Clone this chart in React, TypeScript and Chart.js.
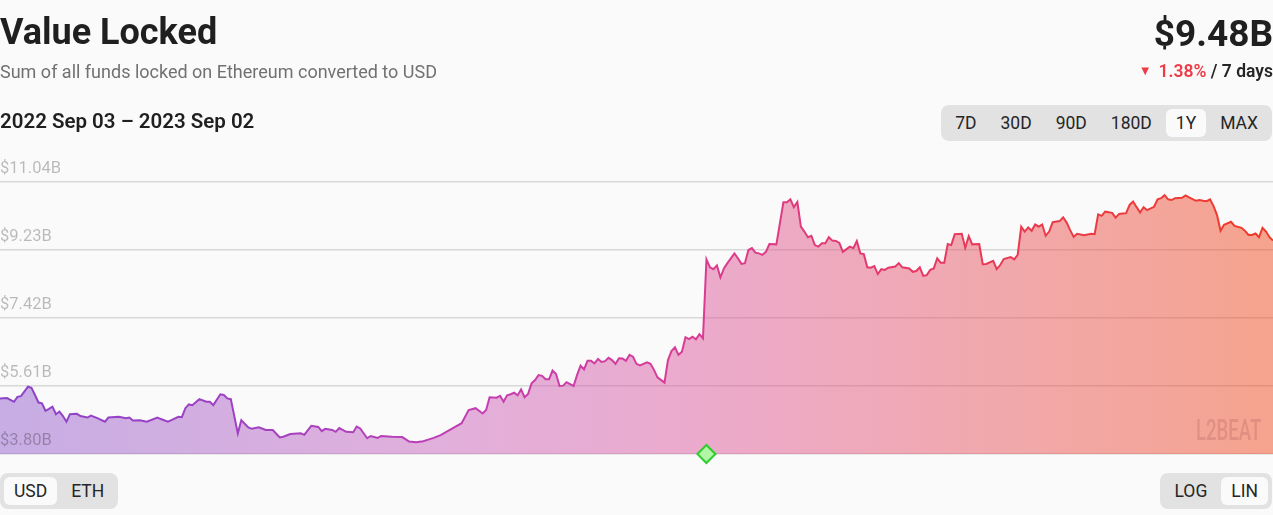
import React, { useEffect, useRef } from "react";
import { Chart, registerables } from "chart.js";

Chart.register(...registerables);

// Day index since 2022 Sep 03
const days = [
  0, 2, 4, 5, 6, 8, 9, 10, 11, 12, 13, 14, 15, 16, 17, 18, 19, 20, 22, 23, 25, 26, 28, 30, 31, 34, 36, 37, 38, 40,
  42, 45, 46, 48, 49, 51, 52, 53, 54, 55, 57, 59, 60, 61, 63, 64, 65, 66, 68, 69, 71, 72, 74, 76, 78, 80, 81, 83, 86, 87,
  89, 91, 92, 93, 95, 96, 97, 99, 101, 102, 103, 105, 106, 108, 109, 112, 115, 117, 119, 121, 122, 124, 126, 129, 132, 134, 136, 138, 139, 140,
  142, 143, 144, 145, 146, 147, 148, 149, 150, 151, 152, 153, 154, 155, 156, 157, 158, 159, 160, 161, 162, 163, 164, 165, 166, 167, 168, 169, 170, 171,
  172, 173, 174, 175, 176, 177, 178, 179, 180, 181, 182, 183, 185, 186, 187, 188, 190, 191, 192, 193, 194, 195, 196, 197, 198, 199, 200, 201, 202, 203,
  204, 205, 206, 207, 208, 210, 211, 212, 213, 214, 215, 216, 217, 218, 219, 220, 222, 224, 225, 226, 227, 228, 229, 230, 231, 232, 233, 234, 235, 236,
  237, 238, 239, 240, 241, 243, 244, 245, 246, 247, 248, 249, 250, 251, 252, 253, 254, 256, 257, 258, 260, 261, 262, 263, 264, 265, 266, 267, 268, 269,
  270, 271, 272, 273, 275, 276, 277, 278, 280, 281, 282, 284, 285, 286, 287, 289, 290, 291, 292, 293, 294, 295, 296, 297, 298, 299, 300, 301, 303, 304,
  305, 306, 307, 308, 310, 312, 313, 314, 315, 316, 318, 319, 320, 321, 322, 323, 324, 325, 326, 327, 328, 330, 331, 332, 333, 334, 335, 336, 338, 339,
  340, 342, 343, 344, 345, 346, 347, 348, 349, 350, 352, 353, 355, 356, 357, 358, 359, 360, 361, 362, 363, 364,
];

// Value locked, billions of USD
const values = [
  5.28, 5.29, 5.19, 5.32, 5.34, 5.59, 5.56, 5.37, 5.17, 5.15, 4.95, 5.0, 5.06, 4.86, 4.93, 4.81, 4.66, 4.86, 4.87, 4.81, 4.77, 4.82, 4.75, 4.66, 4.77, 4.79, 4.75, 4.77, 4.69, 4.7,
  4.66, 4.77, 4.73, 4.66, 4.7, 4.79, 4.78, 5.02, 5.12, 5.1, 5.26, 5.19, 5.19, 5.1, 5.39, 5.37, 5.28, 5.26, 4.35, 4.7, 4.51, 4.47, 4.51, 4.44, 4.44, 4.24, 4.26, 4.33, 4.35, 4.31,
  4.55, 4.52, 4.41, 4.47, 4.44, 4.39, 4.49, 4.39, 4.38, 4.53, 4.48, 4.22, 4.28, 4.23, 4.28, 4.26, 4.25, 4.13, 4.11, 4.14, 4.17, 4.23, 4.3, 4.46, 4.62, 4.97, 5.02, 4.88, 4.97, 5.31,
  5.3, 5.35, 5.19, 5.36, 5.39, 5.43, 5.36, 5.52, 5.31, 5.4, 5.68, 5.77, 5.9, 5.88, 5.79, 5.79, 6.02, 5.93, 5.61, 5.62, 5.71, 5.66, 5.61, 5.9, 6.15, 6.05, 6.28, 6.28, 6.21, 6.33,
  6.25, 6.27, 6.36, 6.3, 6.2, 6.35, 6.34, 6.28, 6.44, 6.39, 6.2, 6.16, 6.24, 6.2, 6.04, 5.84, 5.7, 6.3, 6.54, 6.64, 6.44, 6.52, 6.91, 6.86, 6.92, 6.85, 6.99, 6.88, 8.98, 8.77,
  8.72, 8.82, 8.5, 8.74, 8.88, 9.14, 9.01, 8.86, 8.88, 9.23, 9.28, 9.16, 9.14, 9.1, 9.18, 9.39, 9.38, 10.5, 10.5, 10.58, 10.37, 10.51, 9.85, 9.72, 9.57, 9.61, 9.36, 9.32, 9.41, 9.41,
  9.57, 9.48, 9.47, 9.42, 9.18, 9.32, 9.28, 9.47, 9.14, 9.12, 8.77, 8.76, 8.8, 8.59, 8.72, 8.7, 8.76, 8.79, 8.88, 8.77, 8.74, 8.65, 8.67, 8.77, 8.54, 8.56, 8.7, 8.74, 9.01, 8.89,
  8.89, 9.39, 9.36, 9.65, 9.66, 9.29, 9.6, 9.38, 9.39, 8.85, 8.86, 8.94, 8.72, 8.83, 8.99, 9.04, 8.98, 9.1, 9.85, 9.72, 9.83, 9.74, 9.91, 9.85, 9.91, 9.61, 9.72, 9.97, 10.0, 10.1,
  9.96, 9.76, 9.58, 9.66, 9.62, 9.66, 9.65, 10.18, 10.14, 10.25, 10.22, 10.09, 10.19, 10.2, 10.21, 10.43, 10.52, 10.37, 10.23, 10.37, 10.29, 10.38, 10.58, 10.61, 10.69, 10.58, 10.56, 10.61, 10.62, 10.68,
  10.63, 10.54, 10.56, 10.54, 10.53, 10.58, 10.4, 10.16, 9.74, 9.9, 9.98, 9.87, 9.82, 9.74, 9.63, 9.63, 9.67, 9.57, 9.82, 9.72, 9.57, 9.48,
];

const yTicks = [3.8, 5.61, 7.42, 9.23, 11.04];
const milestoneDays = [202];
const rangeOptions = ["7D", "30D", "90D", "180D", "1Y", "MAX"];
const activeRange = "1Y";
const unitOptions = ["USD", "ETH"];
const activeUnit = "USD";
const scaleOptions = ["LOG", "LIN"];
const activeScale = "LIN";

const FONT = "Roboto, 'Noto Sans', sans-serif";

function ButtonGroup({ items, active, style }: { items: string[]; active: string; style: React.CSSProperties }) {
  return (
    <div
      style={{
        position: "absolute",
        display: "flex",
        gap: 4,
        padding: 4,
        background: "#e2e2e2",
        borderRadius: 8,
        height: 28,
        ...style,
      }}
    >
      {items.map((it) => (
        <div
          key={it}
          style={{
            padding: "0 10px",
            height: 28,
            lineHeight: "28px",
            borderRadius: 6,
            background: it === active ? "#fafafa" : "transparent",
            color: "#262626",
            fontSize: 17.5,
            fontFamily: FONT,
          }}
        >
          {it}
        </div>
      ))}
    </div>
  );
}

// Draws y tick labels above their grid lines, flush with the left edge
const tickLabelPlugin = {
  id: "tickLabelsAbove",
  afterDatasetsDraw(chart: any) {
    const scale = chart.scales.y;
    const ctx = chart.ctx;
    ctx.save();
    ctx.font = `16.5px ${FONT}`;
    ctx.fillStyle = "rgba(0,0,0,0.26)";
    ctx.textAlign = "left";
    ctx.textBaseline = "middle";
    scale.ticks.forEach((t: any) => {
      const y = scale.getPixelForValue(t.value);
      ctx.fillText(`$${Number(t.value).toFixed(2)}B`, chart.chartArea.left, y - 13);
    });
    ctx.restore();
  },
};

export default function App() {
  const ref = useRef<HTMLCanvasElement>(null);

  useEffect(() => {
    const canvas = ref.current;
    if (!canvas) return;

    const makeGrad = (chart: any, stops: [number, string][], fallback: string) => {
      const area = chart.chartArea;
      if (!area) return fallback;
      const g = chart.ctx.createLinearGradient(area.left, 0, area.right, 0);
      stops.forEach(([o, c]) => g.addColorStop(o, c));
      return g;
    };

    const yMin = yTicks[0];
    const yMax = yTicks[yTicks.length - 1];

    const chart = new Chart(canvas, {
      type: "line",
      data: {
        datasets: [
          {
            data: milestoneDays.map((d) => ({ x: d, y: yMin })),
            showLine: false,
            pointStyle: "rectRot",
            pointRadius: 9,
            pointHoverRadius: 9,
            pointBackgroundColor: "#b2f5a6",
            pointBorderColor: "#2ccd2c",
            pointBorderWidth: 2,
            clip: false,
            order: 0,
          } as any,
          {
            data: days.map((d, i) => ({ x: d, y: values[i] })),
            borderWidth: 2,
            borderColor: (ctx: any) =>
              makeGrad(
                ctx.chart,
                [
                  [0, "#8c43c9"],
                  [0.2, "#a140c2"],
                  [0.4, "#c73eae"],
                  [0.55, "#da3c92"],
                  [0.68, "#e3396f"],
                  [0.85, "#eb3a44"],
                  [1, "#f03a26"],
                ],
                "#d63c8c"
              ),
            backgroundColor: (ctx: any) =>
              makeGrad(
                ctx.chart,
                [
                  [0, "rgba(146,96,206,0.5)"],
                  [0.35, "rgba(200,100,188,0.5)"],
                  [0.55, "rgba(220,90,158,0.5)"],
                  [0.8, "rgba(232,86,90,0.5)"],
                  [1, "rgba(240,76,34,0.5)"],
                ],
                "rgba(220,90,158,0.5)"
              ),
            fill: "start",
            pointRadius: 0,
            tension: 0,
            order: 2,
          } as any,
        ],
      },
      options: {
        responsive: false,
        animation: false,
        layout: { autoPadding: false, padding: { top: 182, bottom: 61, left: 0, right: 0 } },
        plugins: { legend: { display: false }, tooltip: { enabled: false } },
        scales: {
          x: { type: "linear", min: 0, max: 364, display: false },
          y: {
            min: yMin,
            max: yMax,
            afterBuildTicks: (axis: any) => {
              axis.ticks = yTicks.map((v) => ({ value: v }));
            },
            afterFit: (axis: any) => {
              axis.width = 0;
            },
            border: { display: false },
            grid: { color: "#d8d8d8", lineWidth: 1.5, drawTicks: false, tickLength: 0 },
            ticks: { display: false, padding: 0 },
          },
        },
      } as any,
      plugins: [tickLabelPlugin],
    });
    return () => chart.destroy();
  }, []);

  return (
    <div style={{ position: "fixed", inset: 0, background: "#fafafa", overflow: "hidden", fontFamily: FONT }}>
      <canvas ref={ref} width={1273} height={515} style={{ position: "absolute", left: 0, top: 0, width: 1273, height: 515 }} />

      <div style={{ position: "absolute", left: 0, top: 14, fontSize: 36, lineHeight: "36px", fontWeight: 700, color: "#1f1f1f" }}>
        Value Locked
      </div>
      <div style={{ position: "absolute", left: 0, top: 63, fontSize: 18, lineHeight: "18px", color: "#717171" }}>
        Sum of all funds locked on Ethereum converted to USD
      </div>
      <div style={{ position: "absolute", left: 0, top: 111, fontSize: 20.5, lineHeight: "20.5px", fontWeight: 600, color: "#1f1f1f" }}>
        2022 Sep 03 – 2023 Sep 02
      </div>

      <div style={{ position: "absolute", right: 0, top: 15, fontSize: 37, lineHeight: "37px", fontWeight: 700, color: "#1f1f1f" }}>
        $9.48B
      </div>
      <div style={{ position: "absolute", right: 0, top: 62, fontSize: 17.5, lineHeight: "17.5px", fontWeight: 600, color: "#262626" }}>
        <span style={{ color: "#ee3b46", fontSize: 13, verticalAlign: "2px", marginRight: 7 }}>▼</span>
        <span style={{ color: "#ee3b46" }}>1.38%</span> / 7 days
      </div>

      <ButtonGroup items={rangeOptions} active={activeRange} style={{ right: 1, top: 105 }} />
      <ButtonGroup items={unitOptions} active={activeUnit} style={{ left: 0, top: 473 }} />
      <ButtonGroup items={scaleOptions} active={activeScale} style={{ right: 1, top: 473 }} />

      <div
        style={{
          position: "absolute",
          left: 1196,
          top: 414,
          fontSize: 30,
          lineHeight: "32px",
          fontWeight: 500,
          color: "rgba(150,60,70,0.2)",
          transform: "scaleX(0.62)",
          transformOrigin: "left top",
          whiteSpace: "nowrap",
        }}
      >
        L2BEAT
      </div>
    </div>
  );
}
